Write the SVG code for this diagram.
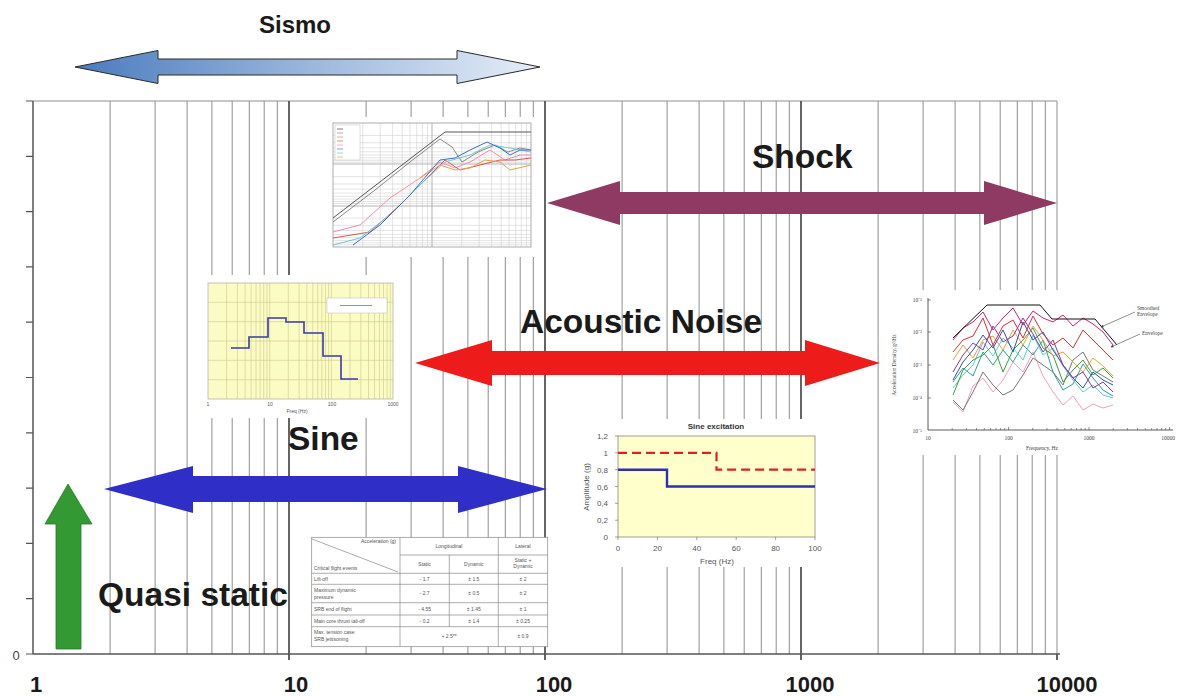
<svg xmlns="http://www.w3.org/2000/svg" width="1186" height="697" viewBox="0 0 1186 697">
<style>
.grid{stroke:#8e8e8e;stroke-width:1;fill:none}
.major{stroke:#4a4a4a;stroke-width:1.7;fill:none}
.lbl{font-family:"Liberation Sans",Arial,sans-serif;font-weight:bold;fill:#1a1a1a}
.big{font-size:33.5px}
.axl{font-size:22px}
.tiny{font-family:"Liberation Sans",Arial,sans-serif;font-size:5px;fill:#555}
.tserif{font-family:"Liberation Serif","Times New Roman",serif;font-size:5.5px;fill:#444}
.ig{stroke:#d0d0d0;stroke-width:0.6;fill:none}
.yg{stroke:#c9c98a;stroke-width:0.6;fill:none}
.tb{stroke:#888;stroke-width:0.7;fill:none}
.c{fill:none;stroke-width:1;stroke-linejoin:round}
</style>
<defs>
<linearGradient id="sismoGrad" x1="0" y1="0" x2="1" y2="0">
<stop offset="0" stop-color="#4a7bbd"/>
<stop offset="0.5" stop-color="#9bb6dc"/>
<stop offset="1" stop-color="#e6eef8"/>
</linearGradient>
<marker id="ptr" viewBox="0 0 6 6" refX="5" refY="3" markerWidth="5" markerHeight="5" orient="auto"><path d="M0,0 L6,3 L0,6 z" fill="#444"/></marker>
</defs>
<rect width="1186" height="697" fill="#ffffff"/>

<!-- main log grid -->
<g id="grid">
<line x1="33" y1="101" x2="1057" y2="101" class="grid"/>
<path class="grid" d="M110.1,101V654M155.1,101V654M187.1,101V654M211.9,101V654M232.2,101V654M249.3,101V654M264.2,101V654M277.3,101V654
M366.1,101V654M411.1,101V654M443.1,101V654M467.9,101V654M488.2,101V654M505.3,101V654M520.2,101V654M533.3,101V654
M622.1,101V654M667.1,101V654M699.1,101V654M723.9,101V654M744.2,101V654M761.3,101V654M776.2,101V654M789.3,101V654
M878.1,101V654M923.1,101V654M955.1,101V654M979.9,101V654M1000.2,101V654M1017.3,101V654M1032.2,101V654M1045.3,101V654M1057,101V654"/>
<path class="major" d="M289,101V660M545,101V660M801,101V660M1057,654V660"/>
</g>

<g id="axes">
<line x1="33" y1="101" x2="33" y2="654" stroke="#555" stroke-width="1.5"/>
<line x1="33" y1="654" x2="1060" y2="654" stroke="#555" stroke-width="1.5"/>
<path stroke="#555" stroke-width="1.2" d="M26,101H33M26,156.3H33M26,211.6H33M26,266.9H33M26,322.2H33M26,377.5H33M26,432.8H33M26,488.1H33M26,543.4H33M26,598.7H33M26,654H33"/>
<text x="16" y="660" font-family="Liberation Sans,Arial,sans-serif" font-size="13" fill="#444" text-anchor="middle">0</text>
<g class="lbl axl" text-anchor="middle">
<text x="36" y="692">1</text>
<text x="296" y="692">10</text>
<text x="554" y="692">100</text>
<text x="810" y="692">1000</text>
<text x="1067" y="692">10000</text>
</g>
</g>

<!-- Shock response chart inset -->
<g id="shock-chart">
<rect x="327" y="117" width="215" height="140" fill="#fff"/>
<path class="ig" d="M362.8,123V247M380.2,123V247M392.6,123V247M402.2,123V247M410,123V247M416.7,123V247M422.4,123V247M427.5,123V247
M461.8,123V247M479.2,123V247M491.6,123V247M501.2,123V247M509,123V247M515.7,123V247M521.4,123V247M526.5,123V247
M333,135.4H531M333,142.7H531M333,147.8H531M333,151.8H531M333,155H531M333,157.8H531M333,160.2H531M333,162.2H531
M333,176.7H531M333,184H531M333,189.1H531M333,193.1H531M333,196.3H531M333,199.1H531M333,201.5H531M333,203.5H531
M333,218H531M333,225.3H531M333,230.4H531M333,234.4H531M333,237.6H531M333,240.4H531M333,242.8H531M333,244.8H531"/>
<path stroke="#aaa" stroke-width="0.9" fill="none" d="M432,123V247M333,164H531M333,206H531"/>
<rect x="333" y="123" width="198" height="124" fill="none" stroke="#999" stroke-width="0.8"/>
<rect x="335" y="125" width="25" height="35" fill="#fff" stroke="#bbb" stroke-width="0.5"/>
<path stroke-width="0.8" fill="none" d="M337,129h6" stroke="#555"/>
<path stroke-width="0.8" fill="none" d="M337,133h6" stroke="#999"/>
<path stroke-width="0.8" fill="none" d="M337,137h6" stroke="#e88"/>
<path stroke-width="0.8" fill="none" d="M337,141h6" stroke="#e66"/>
<path stroke-width="0.8" fill="none" d="M337,145h6" stroke="#f9a"/>
<path stroke-width="0.8" fill="none" d="M337,149h6" stroke="#58c"/>
<path stroke-width="0.8" fill="none" d="M337,153h6" stroke="#7cd"/>
<path stroke-width="0.8" fill="none" d="M337,157h6" stroke="#ea6"/>
<polyline class="c" stroke="#555" stroke-width="1.1" points="333,218 445,132 531,132"/>
<polyline class="c" stroke="#888" points="333,222 375,190 410,162 440,139 452,147 462,162 478,152 495,145 508,152 520,148 531,150"/>
<polyline class="c" stroke="#f08fa8" points="333,232 360,225 390,198 420,178 440,162 455,168 470,162 490,150 505,160 520,155 531,155"/>
<polyline class="c" stroke="#e05555" points="333,238 370,232 400,205 430,175 445,160 460,170 480,165 500,160 515,160 531,158"/>
<polyline class="c" stroke="#e8a050" points="420,178 440,165 455,170 470,168 485,160 500,162 510,170 531,165"/>
<polyline class="c" stroke="#70c8d8" points="333,245 360,238 390,215 420,185 445,162 470,155 490,145 510,148 531,152"/>
<polyline class="c" stroke="#3a6fc8" stroke-width="1.2" points="353,245 380,225 410,195 440,160 455,158 470,150 487,142 500,148 510,155 520,150 531,150"/>
</g>

<!-- Sine spec chart inset (yellow) -->
<g id="sine-spec-chart">
<rect x="198" y="275" width="210" height="143" fill="#fff"/>
<rect x="208" y="283" width="185" height="116" fill="#fbfbc4"/>
<path class="yg" d="M226.6,283V399M237.4,283V399M245.1,283V399M251.1,283V399M256,283V399M260.1,283V399M263.7,283V399M266.9,283V399M269.7,283V399
M288.3,283V399M299.1,283V399M306.8,283V399M312.8,283V399M317.7,283V399M321.8,283V399M325.4,283V399M328.6,283V399M331.4,283V399
M350,283V399M360.8,283V399M368.5,283V399M374.5,283V399M379.4,283V399M383.5,283V399M387.1,283V399M390.3,283V399
M208,302.3H393M208,321.7H393M208,341H393M208,360.3H393M208,379.7H393"/>
<rect x="208" y="283" width="185" height="116" fill="none" stroke="#aaa" stroke-width="0.7"/>
<rect x="327" y="298" width="60" height="15" fill="#fff" stroke="#bbb" stroke-width="0.5"/>
<line x1="340" y1="305.5" x2="372" y2="305.5" stroke="#8a8ad8" stroke-width="1"/>
<polyline fill="none" stroke="#3a3aa8" stroke-width="1.6" points="231,348 249,348 249,337 268,337 268,318 286,318 286,322 304,322 304,333 323,333 323,356 341,356 341,379 358,379"/>
<g class="tiny" text-anchor="middle">
<text x="208" y="406">1</text>
<text x="270" y="406">10</text>
<text x="332" y="406">100</text>
<text x="393" y="406">1000</text>
<text x="297" y="413">Freq (Hz)</text>
</g>
</g>

<!-- Quasi-static loads table -->
<g id="qs-table">
<rect x="311.7" y="537.3" width="236" height="109.4" fill="#fff" stroke="#888" stroke-width="0.7"/>
<path class="tb" d="M400,537.3V646.7M449.3,555V626.7M498.3,537.3V646.7M400,555H547.7M311.7,573.3H547.7M311.7,584.3H547.7M311.7,602.7H547.7M311.7,615H547.7M311.7,626.7H547.7M312,539L398,572"/>
<g class="tiny">
<text x="396" y="543" text-anchor="end">Acceleration (g)</text>
<text x="314" y="570">Critical flight events</text>
<text x="314" y="580.5">Lift-off</text>
<text x="314" y="591.5">Maximum dynamic</text>
<text x="314" y="598.5">pressure</text>
<text x="314" y="611">SRB end of flight</text>
<text x="314" y="623">Main core thrust tail-off</text>
<text x="314" y="634">Max. tension case:</text>
<text x="314" y="641">SRB jettisoning</text>
</g>
<g class="tiny" text-anchor="middle">
<text x="449" y="548">Longitudinal</text>
<text x="523" y="548">Lateral</text>
<text x="424.6" y="566">Static</text>
<text x="473.8" y="566">Dynamic</text>
<text x="523" y="562">Static +</text>
<text x="523" y="568">Dynamic</text>
<text x="424.6" y="580.5">- 1.7</text><text x="473.8" y="580.5">± 1.5</text><text x="523" y="580.5">± 2</text>
<text x="424.6" y="595">- 2.7</text><text x="473.8" y="595">± 0.5</text><text x="523" y="595">± 2</text>
<text x="424.6" y="610.5">- 4.55</text><text x="473.8" y="610.5">± 1.45</text><text x="523" y="610.5">± 1</text>
<text x="424.6" y="622.5">- 0.2</text><text x="473.8" y="622.5">± 1.4</text><text x="523" y="622.5">± 0.25</text>
<text x="449" y="638">+ 2.5**</text><text x="523" y="638">± 0.9</text>
</g>
</g>

<!-- Sine excitation chart -->
<g id="sine-excitation-chart">
<rect x="582" y="419" width="238" height="148" fill="#fff"/>
<text x="716" y="429" font-family="Liberation Sans,Arial,sans-serif" font-weight="bold" font-size="8" fill="#333" text-anchor="middle">Sine excitation</text>
<rect x="618" y="436" width="197" height="101" fill="#ffffcc" stroke="#888" stroke-width="0.8"/>
<path stroke="#777" stroke-width="0.7" d="M615,436H618M615,452.8H618M615,469.7H618M615,486.5H618M615,503.3H618M615,520.2H618M615,537H618M618,537V540M657.4,537V540M696.8,537V540M736.2,537V540M775.6,537V540M815,537V540"/>
<polyline fill="none" stroke="#e02020" stroke-width="2.2" stroke-dasharray="9,5" points="618,452.8 716.5,452.8 716.5,469.7 815,469.7"/>
<polyline fill="none" stroke="#2f2fb0" stroke-width="2.4" points="618,469.7 667,469.7 667,486.5 815,486.5"/>
<g font-family="Liberation Sans,Arial,sans-serif" font-size="8" fill="#555" text-anchor="end">
<text x="608" y="439">1,2</text>
<text x="608" y="455.8">1</text>
<text x="608" y="472.7">0,8</text>
<text x="608" y="489.5">0,6</text>
<text x="608" y="506.3">0,4</text>
<text x="608" y="523.2">0,2</text>
<text x="608" y="540">0</text>
</g>
<g font-family="Liberation Sans,Arial,sans-serif" font-size="8" fill="#555" text-anchor="middle">
<text x="618" y="551">0</text>
<text x="657.4" y="551">20</text>
<text x="696.8" y="551">40</text>
<text x="736.2" y="551">60</text>
<text x="775.6" y="551">80</text>
<text x="815" y="551">100</text>
<text x="717" y="564">Freq (Hz)</text>
<text transform="translate(589,487) rotate(-90)">Amplitude (g)</text>
</g>
</g>

<!-- Random vibration (PSD) chart -->
<g id="psd-chart">
<rect x="893" y="290" width="293" height="165" fill="#fff"/>
<path stroke="#333" stroke-width="0.8" fill="none" d="M928,298V430H1173"/>
<path stroke="#444" stroke-width="0.6" fill="none" d="M928,300h3M928,332h3M928,365h3M928,398h3
M952.2,430v-2M966.4,430v-2M976.5,430v-2M984.3,430v-2M990.6,430v-2M996,430v-2M1000.6,430v-2M1004.7,430v-2M1008.5,430v-3
M1032.7,430v-2M1046.9,430v-2M1057,430v-2M1064.8,430v-2M1071.1,430v-2M1076.5,430v-2M1081.1,430v-2M1085.2,430v-2M1089,430v-3
M1113.2,430v-2M1127.4,430v-2M1137.5,430v-2M1145.3,430v-2M1151.6,430v-2M1157,430v-2M1161.6,430v-2M1165.7,430v-2M1169.5,430v-3"/>
<g class="tserif" text-anchor="end">
<text x="922" y="302">10⁻¹</text>
<text x="922" y="334">10⁻²</text>
<text x="922" y="367">10⁻³</text>
<text x="922" y="400">10⁻⁴</text>
<text x="922" y="433">10⁻⁵</text>
</g>
<g class="tserif" text-anchor="middle">
<text x="928" y="440">10</text>
<text x="1008.5" y="440">100</text>
<text x="1089" y="440">1000</text>
<text x="1168" y="440">10000</text>
<text x="1042" y="450">Frequency, Hz</text>
<text transform="translate(896,365) rotate(-90)">Acceleration Density, g²/Hz</text>
</g>
<polyline class="c" stroke="#f0a0b8" points="953,402 963,412 973,386 983,378 993,392 1003,380 1013,362 1023,372 1033,352 1043,376 1053,392 1063,405 1073,396 1083,410 1093,404 1103,408 1113,405"/>
<polyline class="c" stroke="#777" points="953,400 963,410 973,392 983,372 993,385 1003,395 1013,390 1023,375 1033,358 1043,365 1053,372 1063,385 1073,360 1083,352 1093,370 1103,376 1113,382"/>
<polyline class="c" stroke="#2aa0a0" points="953,382 963,368 973,376 983,352 993,365 1003,350 1013,362 1023,345 1033,355 1043,340 1053,372 1063,390 1073,384 1083,364 1093,378 1103,390 1113,396"/>
<polyline class="c" stroke="#5cc8e0" points="953,388 963,375 973,365 983,342 993,356 1003,338 1013,348 1023,360 1033,335 1043,355 1053,348 1063,366 1073,380 1083,392 1093,385 1103,395 1113,398"/>
<polyline class="c" stroke="#3aa03a" points="953,395 963,370 973,360 983,355 993,345 1003,372 1013,350 1023,340 1033,328 1043,348 1053,355 1063,382 1073,370 1083,360 1093,375 1103,368 1113,378"/>
<polyline class="c" stroke="#f0a030" points="953,360 963,345 973,358 983,340 993,336 1003,350 1013,330 1023,345 1033,326 1043,340 1053,356 1063,352 1073,362 1083,372 1093,358 1103,366 1113,376"/>
<polyline class="c" stroke="#3050c0" points="953,380 963,362 973,350 983,335 993,348 1003,330 1013,352 1023,322 1033,340 1043,332 1053,350 1063,365 1073,378 1083,388 1093,372 1103,380 1113,385"/>
<polyline class="c" stroke="#8a3aa0" points="953,372 963,355 973,343 983,350 993,326 1003,342 1013,336 1023,318 1033,334 1043,352 1053,340 1063,365 1073,378 1083,372 1093,388 1103,382 1113,392"/>
<polyline class="c" stroke="#e03030" points="953,352 963,340 973,336 983,318 993,345 1003,326 1013,320 1023,338 1033,316 1043,334 1053,345 1063,338 1073,348 1083,330 1093,340 1103,350 1113,360"/>
<polyline class="c" stroke="#d0207a" stroke-width="1.4" points="953,340 963,328 973,322 983,312 993,330 1003,318 1013,308 1023,325 1033,311 1043,318 1053,322 1063,315 1073,326 1083,318 1093,324 1103,332 1113,345"/>
<polyline class="c" stroke="#111" stroke-width="1.5" points="953,338 987,305 1040,305 1052,319 1095,319 1117,345"/>
<g class="tserif">
<text x="1137" y="310">Smoothed</text>
<text x="1137" y="316">Envelope</text>
<text x="1142" y="335">Envelope</text>
</g>
<line x1="1135" y1="312" x2="1101" y2="327" stroke="#444" stroke-width="0.6" marker-end="url(#ptr)"/>
<line x1="1140" y1="334" x2="1111" y2="347" stroke="#444" stroke-width="0.6" marker-end="url(#ptr)"/>
</g>

<!-- range arrows (connectors) -->
<g id="connectors">
<path id="sismo-arrow" d="M75,67 L158,50.5 L158,59 L457,59 L457,50.5 L540,67 L457,83.5 L457,75 L158,75 L158,83.5 Z" fill="url(#sismoGrad)" stroke="#2a2a2a" stroke-width="1"/>
<path id="shock-arrow" d="M547,203 L620,181 L620,192 L984,192 L984,181 L1057,203 L984,225 L984,214 L620,214 L620,225 Z" fill="#8e3a63"/>
<path id="acoustic-arrow" d="M415,363 L492,340 L492,351 L805,351 L805,340 L880,363 L805,386 L805,375 L492,375 L492,386 Z" fill="#ee1b1b"/>
<path id="sine-arrow" d="M104,489 L193,466 L193,476 L458,476 L458,466 L547,489 L458,513 L458,502 L193,502 L193,513 Z" fill="#2f2fc8"/>
<path id="quasi-static-arrow" d="M68,484 L92,524 L81,524 L81,649 L56,649 L56,524 L45,524 Z" fill="#339933" stroke="#2a7a2a" stroke-width="0.8"/>
</g>

<g id="label-sismo"><text class="lbl" x="295" y="33" font-size="24" text-anchor="middle">Sismo</text></g>
<g id="label-shock"><text class="lbl big" x="752" y="168">Shock</text></g>
<g id="label-acoustic"><text class="lbl big" x="520" y="333">Acoustic Noise</text></g>
<g id="label-sine"><text class="lbl big" x="288" y="450">Sine</text></g>
<g id="label-quasi-static"><text class="lbl big" x="98" y="606">Quasi static</text></g>
</svg>
